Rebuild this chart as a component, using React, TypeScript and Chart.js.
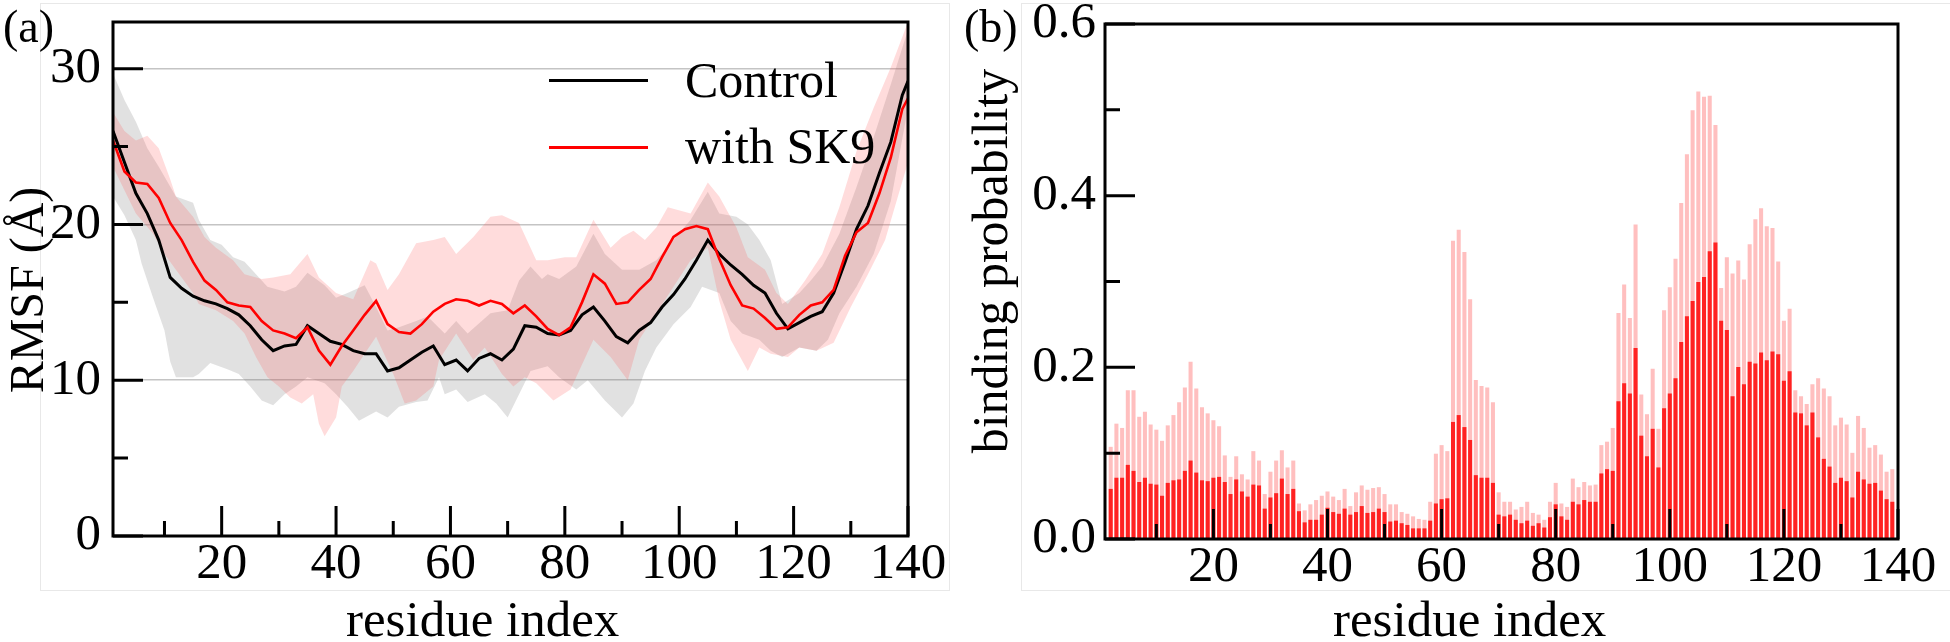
import React, { useEffect, useRef } from 'react';
import { Chart, registerables } from 'chart.js';

Chart.register(...registerables);

const SERIF = '"Liberation Serif", "Times New Roman", Times, serif';

// ---------- Panel (a): RMSF ----------
const lineResidues = [1, 3, 5, 7, 9, 11, 13, 15, 17, 19, 21, 23, 25, 27, 29, 31, 33, 35, 37, 39, 41, 43, 45, 47, 49, 51, 53, 55, 57, 59, 61, 63, 65, 67, 69, 71, 73, 75, 77, 79, 81, 83, 85, 87, 89, 91, 93, 95, 97, 99, 101, 103, 105, 107, 109, 111, 113, 115, 117, 119, 121, 123, 125, 127, 129, 131, 133, 135, 137, 139, 140];

const controlRMSF = [
  26.0, 24.0, 22.0, 20.7, 19.0, 16.6, 15.9, 15.4, 15.1, 14.9,
  14.6, 14.2, 13.5, 12.6, 11.9, 12.2, 12.3, 13.5, 13.0, 12.5,
  12.3, 11.9, 11.7, 11.7, 10.6, 10.8, 11.3, 11.8, 12.2, 11.0,
  11.3, 10.6, 11.4, 11.7, 11.3, 12.0, 13.5, 13.4, 13.0, 12.9,
  13.2, 14.2, 14.7, 13.8, 12.8, 12.4, 13.2, 13.7, 14.7, 15.5,
  16.5, 17.7, 19.0, 18.1, 17.4, 16.8, 16.1, 15.6, 14.3, 13.3,
  13.7, 14.1, 14.4, 15.6, 17.6, 19.7, 21.2, 23.3, 25.3, 28.3,
  29.2,
];

const sk9RMSF = [
  25.4, 23.4, 22.7, 22.6, 21.7, 20.1, 19.0, 17.6, 16.4, 15.8,
  15.0, 14.8, 14.7, 13.8, 13.2, 13.0, 12.7, 13.4, 11.9, 11.0,
  12.2, 13.2, 14.2, 15.1, 13.6, 13.1, 13.0, 13.6, 14.4, 14.9,
  15.2, 15.1, 14.8, 15.1, 14.9, 14.3, 14.8, 14.1, 13.3, 12.9,
  13.4, 15.0, 16.8, 16.2, 14.9, 15.0, 15.8, 16.5, 17.9, 19.2,
  19.7, 19.9, 19.7, 17.8, 16.1, 14.8, 14.6, 14.0, 13.3, 13.4,
  14.2, 14.8, 15.0, 15.8, 18.0, 19.5, 20.1, 22.0, 24.3, 27.4,
  28.1,
];

// Control ± spread (grey band)
const controlUpperResidues = [1, 3, 5, 7, 9, 12, 15, 16, 18, 20, 22, 24, 26, 28, 31, 33, 35, 38, 40, 42, 45, 47, 49, 51, 54, 56, 59, 61, 63, 67, 70, 72, 74, 76, 77, 79, 82, 85, 87, 90, 93, 96, 99, 102, 105, 107, 110, 112, 114, 116, 118, 121, 123, 125, 128, 131, 134, 137, 140];
const controlUpper = [29.7, 28.0, 26.6, 24.9, 23.7, 21.8, 21.4, 20.3, 19.0, 18.7, 17.9, 17.6, 16.8, 16.0, 15.7, 16.0, 16.9, 16.1, 15.3, 15.6, 16.1, 14.7, 13.2, 13.4, 13.8, 14.1, 13.0, 13.8, 13.0, 14.3, 14.5, 16.4, 17.3, 16.5, 16.8, 16.5, 17.3, 19.4, 18.1, 17.1, 17.1, 17.7, 19.0, 20.3, 22.1, 20.7, 20.5, 20.0, 19.0, 17.7, 14.9, 15.6, 16.4, 17.3, 19.4, 22.4, 25.6, 29.0, 32.5];
const controlLowerResidues = [1, 3, 5, 6, 8, 10, 11, 12, 15, 16, 18, 21, 23, 25, 27, 29, 31, 33, 35, 38, 40, 42, 44, 47, 49, 51, 54, 56, 58, 59, 61, 63, 66, 68, 70, 72, 74, 77, 79, 82, 84, 87, 90, 92, 94, 96, 99, 102, 104, 107, 109, 111, 114, 116, 118, 121, 124, 126, 128, 131, 134, 137, 140];
const controlLower = [21.8, 20.6, 19.0, 17.5, 15.3, 13.2, 11.2, 10.2, 10.2, 10.4, 11.1, 10.7, 10.4, 9.6, 8.7, 8.4, 9.1, 9.6, 10.2, 9.8, 9.1, 8.3, 7.4, 8.0, 7.6, 8.3, 8.6, 8.7, 10.2, 9.1, 9.4, 8.6, 9.1, 8.5, 7.6, 9.1, 10.6, 10.9, 10.2, 9.4, 10.0, 8.7, 7.6, 8.5, 10.6, 12.1, 13.6, 14.7, 16.0, 15.6, 13.8, 13.0, 12.6, 11.9, 11.5, 12.1, 11.9, 12.6, 14.3, 16.0, 18.1, 21.5, 27.5];

// with SK9 ± spread (pink band)
const sk9UpperResidues = [1, 3, 5, 7, 9, 11, 12, 15, 17, 19, 22, 24, 27, 29, 32, 35, 37, 40, 43, 46, 47, 49, 51, 54, 57, 59, 61, 64, 67, 69, 72, 75, 77, 80, 82, 85, 88, 90, 92, 94, 96, 98, 102, 105, 107, 110, 112, 115, 117, 119, 122, 125, 128, 131, 134, 137, 140];
const sk9Upper = [27.2, 26.0, 25.4, 25.7, 24.9, 22.9, 21.8, 20.5, 19.2, 18.5, 17.7, 16.8, 16.5, 16.6, 16.8, 18.1, 16.6, 15.6, 15.2, 17.7, 17.5, 15.8, 16.8, 18.8, 19.0, 19.2, 18.1, 19.2, 20.5, 20.6, 20.1, 17.7, 17.7, 17.9, 17.9, 20.3, 18.5, 19.2, 19.6, 19.0, 19.8, 21.1, 20.7, 22.7, 21.8, 19.8, 17.9, 17.1, 15.6, 14.9, 16.4, 18.1, 21.1, 24.7, 27.5, 30.1, 33.0];
const sk9LowerResidues = [1, 3, 5, 8, 10, 12, 15, 16, 19, 22, 24, 26, 28, 30, 32, 34, 36, 37, 38, 40, 41, 43, 45, 47, 50, 52, 54, 57, 58, 61, 64, 66, 69, 71, 73, 75, 78, 81, 85, 88, 91, 93, 96, 99, 102, 105, 107, 109, 112, 114, 116, 119, 121, 124, 127, 130, 133, 136, 140];
const sk9Lower = [23.7, 22.2, 20.7, 19.4, 18.1, 17.1, 15.6, 14.9, 14.5, 13.8, 13.0, 11.5, 10.2, 9.6, 8.9, 8.5, 9.1, 7.2, 6.4, 7.6, 9.6, 10.6, 11.7, 12.8, 10.4, 8.5, 8.7, 9.6, 11.3, 13.0, 11.3, 12.1, 10.4, 9.6, 10.2, 9.8, 8.7, 9.4, 12.6, 11.5, 10.0, 12.6, 14.3, 16.0, 17.7, 18.5, 15.1, 12.6, 10.6, 12.1, 11.7, 11.5, 12.1, 11.9, 12.4, 14.7, 16.8, 19.0, 24.0];

const rmsfTicks = [0, 10, 20, 30];
const rmsfMinorTicks = [5, 15, 25];
const residueTicks = [20, 40, 60, 80, 100, 120, 140];
const residueMinorTicks = [10, 30, 50, 70, 90, 110, 130];

// ---------- Panel (b): binding probability (residues 2..139) ----------
const barFirstResidue = 2;
const bindingAll = [
  0.107, 0.134, 0.129, 0.173, 0.173, 0.142, 0.148, 0.133, 0.127, 0.114,
  0.132, 0.144, 0.159, 0.176, 0.206, 0.175, 0.153, 0.146, 0.138, 0.131,
  0.097, 0.072, 0.096, 0.075, 0.069, 0.102, 0.091, 0.052, 0.078, 0.091,
  0.103, 0.083, 0.091, 0.041, 0.033, 0.040, 0.045, 0.050, 0.055, 0.049,
  0.045, 0.058, 0.038, 0.054, 0.062, 0.057, 0.059, 0.060, 0.052, 0.040,
  0.040, 0.031, 0.029, 0.026, 0.023, 0.022, 0.043, 0.099, 0.109, 0.102,
  0.347, 0.360, 0.334, 0.279, 0.185, 0.178, 0.176, 0.159,
  0.054, 0.043, 0.043, 0.034, 0.037, 0.043, 0.030, 0.028, 0.022, 0.043,
  0.065, 0.041, 0.037, 0.070, 0.060, 0.066, 0.062, 0.063, 0.109, 0.113,
  0.129, 0.263, 0.296, 0.257, 0.366, 0.168, 0.145, 0.198, 0.128, 0.266,
  0.293, 0.326, 0.391, 0.448, 0.499, 0.521, 0.515, 0.516, 0.482, 0.292,
  0.328, 0.309, 0.324, 0.302, 0.343, 0.372, 0.385, 0.364, 0.362, 0.323,
  0.254, 0.268, 0.173, 0.166, 0.157, 0.180, 0.187, 0.175, 0.166, 0.132,
  0.141, 0.133, 0.100, 0.143, 0.129, 0.106, 0.109, 0.098, 0.078, 0.081,
];
const bindingStrong = [
  0.058, 0.071, 0.071, 0.086, 0.079, 0.066, 0.071, 0.064, 0.063, 0.050,
  0.065, 0.068, 0.069, 0.079, 0.091, 0.077, 0.068, 0.067, 0.071, 0.072,
  0.066, 0.052, 0.069, 0.055, 0.049, 0.063, 0.062, 0.035, 0.048, 0.053,
  0.070, 0.052, 0.058, 0.032, 0.019, 0.022, 0.022, 0.028, 0.036, 0.031,
  0.029, 0.035, 0.028, 0.031, 0.038, 0.030, 0.031, 0.035, 0.031, 0.020,
  0.021, 0.018, 0.016, 0.012, 0.012, 0.012, 0.021, 0.041, 0.046, 0.047,
  0.136, 0.144, 0.130, 0.115, 0.074, 0.071, 0.071, 0.065,
  0.028, 0.026, 0.028, 0.022, 0.018, 0.021, 0.015, 0.018, 0.013, 0.025,
  0.040, 0.026, 0.022, 0.043, 0.040, 0.045, 0.043, 0.043, 0.076, 0.081,
  0.079, 0.160, 0.181, 0.169, 0.222, 0.120, 0.096, 0.128, 0.083, 0.152,
  0.169, 0.187, 0.229, 0.259, 0.277, 0.299, 0.305, 0.335, 0.345, 0.254,
  0.243, 0.166, 0.200, 0.180, 0.206, 0.204, 0.217, 0.208, 0.218, 0.215,
  0.184, 0.195, 0.147, 0.146, 0.132, 0.147, 0.118, 0.093, 0.084, 0.065,
  0.071, 0.067, 0.048, 0.078, 0.069, 0.064, 0.065, 0.056, 0.046, 0.043,
];
const probTicks = [0, 0.2, 0.4, 0.6];
const probMinorTicks = [0.1, 0.3, 0.5];

// ---------- helpers ----------
const framePlugin = {
  id: 'frameTicks',
  afterDatasetsDraw(chart: any, _args: any, opts: any) {
    const { ctx, chartArea, scales } = chart;
    const { left, right, top, bottom } = chartArea;
    const xs = scales.x;
    const ys = scales.y;
    ctx.save();
    ctx.strokeStyle = '#000';
    ctx.lineWidth = 3;
    ctx.lineCap = 'butt';
    ctx.beginPath();
    (opts.xMajor || []).forEach((v: number) => {
      const p = xs.getPixelForValue(v);
      ctx.moveTo(p, bottom);
      ctx.lineTo(p, bottom - 30);
    });
    (opts.xMinor || []).forEach((v: number) => {
      const p = xs.getPixelForValue(v);
      ctx.moveTo(p, bottom);
      ctx.lineTo(p, bottom - 15);
    });
    (opts.yMajor || []).forEach((v: number) => {
      const p = ys.getPixelForValue(v);
      ctx.moveTo(left, p);
      ctx.lineTo(left + 30, p);
    });
    (opts.yMinor || []).forEach((v: number) => {
      const p = ys.getPixelForValue(v);
      ctx.moveTo(left, p);
      ctx.lineTo(left + 15, p);
    });
    ctx.stroke();
    ctx.lineJoin = 'miter';
    ctx.strokeRect(left, top, right - left, bottom - top);
    ctx.restore();
  },
};

const zeroPad = (s: any) => {
  s.paddingLeft = 0;
  s.paddingRight = 0;
  s.paddingTop = 0;
  s.paddingBottom = 0;
};

const tickFont = { family: SERIF, size: 51, lineHeight: 1 };

function RmsfChart() {
  const ref = useRef<HTMLCanvasElement | null>(null);
  useEffect(() => {
    if (!ref.current) return;
    const pts = (xs: number[], ys: number[]) => xs.map((x, i) => ({ x, y: ys[i] }));
    const band = { borderWidth: 0, borderColor: 'rgba(0,0,0,0)', pointRadius: 0, tension: 0 };
    const chart = new Chart(ref.current, {
      type: 'line',
      data: {
        datasets: [
          { label: 'with SK9', data: pts(lineResidues, sk9RMSF), borderColor: '#ff0000', borderWidth: 2.6, pointRadius: 0, fill: false, tension: 0 },
          { label: 'Control', data: pts(lineResidues, controlRMSF), borderColor: '#000000', borderWidth: 3, pointRadius: 0, fill: false, tension: 0 },
          { label: 'with SK9 upper', data: pts(sk9UpperResidues, sk9Upper), ...band, backgroundColor: 'rgba(255,80,80,0.2)', fill: '+1' },
          { label: 'with SK9 lower', data: pts(sk9LowerResidues, sk9Lower), ...band, fill: false },
          { label: 'Control upper', data: pts(controlUpperResidues, controlUpper), ...band, backgroundColor: 'rgba(120,120,120,0.22)', fill: '+1' },
          { label: 'Control lower', data: pts(controlLowerResidues, controlLower), ...band, fill: false },
        ],
      },
      options: {
        responsive: false,
        animation: false,
        devicePixelRatio: 1,
        events: [],
        layout: { padding: { left: 0, top: 22, right: 52, bottom: 0 } },
        plugins: {
          legend: { display: false },
          tooltip: { enabled: false },
          frameTicks: { xMajor: residueTicks, xMinor: residueMinorTicks, yMajor: rmsfTicks, yMinor: rmsfMinorTicks },
        } as any,
        scales: {
          x: {
            type: 'linear',
            min: 1,
            max: 140,
            offset: false,
            afterBuildTicks: (s: any) => { s.ticks = residueTicks.map((v) => ({ value: v })); },
            afterFit: (s: any) => { s.height = 106; zeroPad(s); },
            grid: { display: false, drawTicks: false },
            border: { display: false },
            ticks: { color: '#000', font: tickFont, padding: 3, maxRotation: 0, autoSkip: false, callback: (v: any) => String(v) },
          },
          y: {
            type: 'linear',
            min: 0,
            max: 33,
            afterBuildTicks: (s: any) => { s.ticks = rmsfTicks.map((v) => ({ value: v })); },
            afterFit: (s: any) => { s.width = 113; zeroPad(s); },
            grid: {
              drawTicks: false,
              lineWidth: 1.5,
              color: (c: any) => (c.tick && c.tick.value === 0 ? 'rgba(0,0,0,0)' : '#c4c4c4'),
            },
            border: { display: false },
            ticks: { color: '#000', font: tickFont, padding: 12, autoSkip: false, callback: (v: any) => String(v) },
          },
        },
      } as any,
      plugins: [framePlugin],
    });
    return () => chart.destroy();
  }, []);
  return <canvas ref={ref} width={960} height={642} style={{ position: 'absolute', left: 0, top: 0, width: 960, height: 642 }} />;
}

function BindingChart() {
  const ref = useRef<HTMLCanvasElement | null>(null);
  useEffect(() => {
    if (!ref.current) return;
    const bars = (vals: number[]) => vals.map((y, i) => ({ x: barFirstResidue + i, y }));
    const chart = new Chart(ref.current, {
      type: 'bar',
      data: {
        datasets: [
          { label: 'strong', data: bars(bindingStrong), backgroundColor: '#ff2222', borderWidth: 0, barThickness: 3.4, grouped: false, order: 0 },
          { label: 'all', data: bars(bindingAll), backgroundColor: 'rgba(255,0,0,0.25)', borderWidth: 0, barThickness: 3.4, grouped: false, order: 1 },
        ],
      },
      options: {
        responsive: false,
        animation: false,
        devicePixelRatio: 1,
        events: [],
        layout: { padding: { left: 0, top: 24, right: 52, bottom: 0 } },
        plugins: {
          legend: { display: false },
          tooltip: { enabled: false },
          frameTicks: { xMajor: residueTicks, xMinor: residueMinorTicks, yMajor: probTicks, yMinor: probMinorTicks },
        } as any,
        scales: {
          x: {
            type: 'linear',
            min: 1,
            max: 140,
            offset: false,
            afterBuildTicks: (s: any) => { s.ticks = residueTicks.map((v) => ({ value: v })); },
            afterFit: (s: any) => { s.height = 103; zeroPad(s); },
            grid: { display: false, drawTicks: false, offset: false },
            border: { display: false },
            ticks: { color: '#000', font: tickFont, padding: 3, maxRotation: 0, autoSkip: false, callback: (v: any) => String(v) },
          },
          y: {
            type: 'linear',
            min: 0,
            max: 0.6,
            afterBuildTicks: (s: any) => { s.ticks = probTicks.map((v) => ({ value: v })); },
            afterFit: (s: any) => { s.width = 145; zeroPad(s); },
            grid: { display: false, drawTicks: false },
            border: { display: false },
            ticks: { color: '#000', font: tickFont, padding: 9, autoSkip: false, callback: (v: any) => Number(v).toFixed(1) },
          },
        },
      } as any,
      plugins: [framePlugin],
    });
    return () => chart.destroy();
  }, []);
  return <canvas ref={ref} width={990} height={642} style={{ position: 'absolute', left: 960, top: 0, width: 990, height: 642 }} />;
}

const textBase: React.CSSProperties = {
  position: 'absolute',
  fontFamily: SERIF,
  color: '#000',
  whiteSpace: 'nowrap',
  margin: 0,
};

export default function App() {
  return (
    <div style={{ position: 'fixed', left: 0, top: 0, width: 1950, height: 642, background: '#fff', overflow: 'hidden' }}>
      <div style={{ position: 'absolute', left: 40, top: 3, width: 910, height: 588, border: '1px solid #e8e8e8', boxSizing: 'border-box' }} />
      <div style={{ position: 'absolute', left: 1021, top: 3, width: 940, height: 588, border: '1px solid #e8e8e8', boxSizing: 'border-box' }} />
      <RmsfChart />
      <BindingChart />
      {/* panel labels */}
      <div style={{ ...textBase, left: 3, top: 3.5, fontSize: 46, lineHeight: '46px' }}>(a)</div>
      <div style={{ ...textBase, left: 964, top: 3.5, fontSize: 46, lineHeight: '46px' }}>(b)</div>
      {/* axis titles */}
      <div style={{ ...textBase, left: 27, top: 290, fontSize: 48, lineHeight: '48px', transform: 'translate(-50%, -50%) rotate(-90deg)' }}>RMSF (Å)</div>
      <div style={{ ...textBase, left: 346, top: 594, fontSize: 51, lineHeight: '51px' }}>residue index</div>
      <div style={{ ...textBase, left: 990, top: 261, fontSize: 50, lineHeight: '50px', transform: 'translate(-50%, -50%) rotate(-90deg)' }}>binding probability</div>
      <div style={{ ...textBase, left: 1333, top: 594, fontSize: 51, lineHeight: '51px' }}>residue index</div>
      {/* legend */}
      <div style={{ position: 'absolute', left: 549, top: 78.5, width: 99, height: 3, background: '#000' }} />
      <div style={{ ...textBase, left: 685, top: 55, fontSize: 50, lineHeight: '50px' }}>Control</div>
      <div style={{ position: 'absolute', left: 549, top: 145.5, width: 99, height: 3, background: '#ff0000' }} />
      <div style={{ ...textBase, left: 685, top: 121, fontSize: 50, lineHeight: '50px' }}>with SK9</div>
    </div>
  );
}
